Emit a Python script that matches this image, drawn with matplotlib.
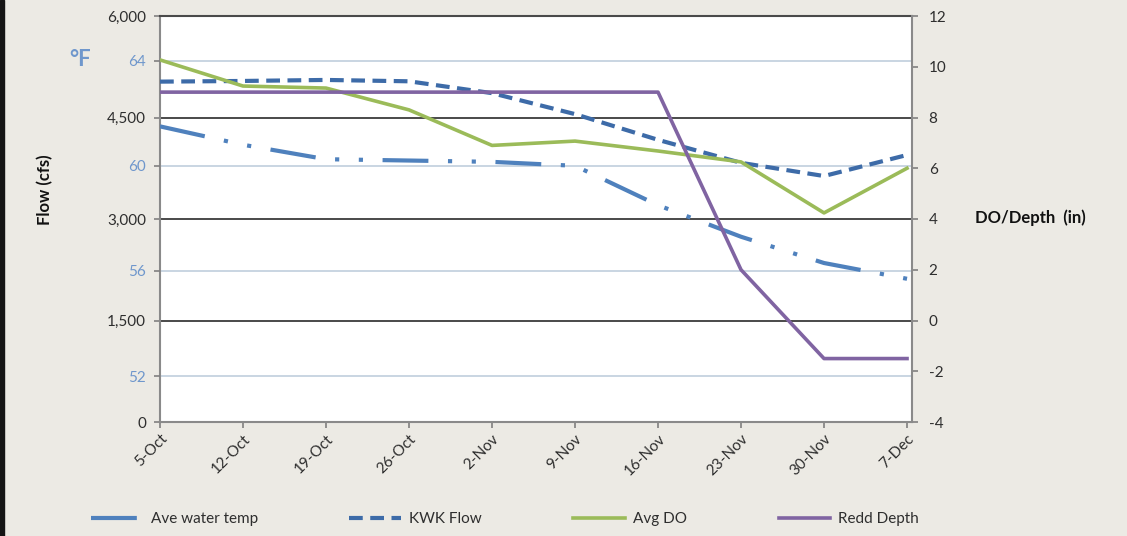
import matplotlib
matplotlib.use("Agg")
import matplotlib.pyplot as plt
import matplotlib.transforms as mtransforms
from matplotlib.patches import Rectangle

# weekly dates on the category axis
dates = ["5-Oct", "12-Oct", "19-Oct", "26-Oct", "2-Nov",
         "9-Nov", "16-Nov", "23-Nov", "30-Nov", "7-Dec"]

# values
water_temp = [61.5, 60.8, 60.25, 60.2, 60.15, 60.0, 58.5, 57.3, 56.3, 55.7]   # deg F
kwk_flow = [5030, 5040, 5055, 5035, 4860, 4550, 4170, 3830, 3635, 3946]       # cfs
avg_do = [10.27, 9.24, 9.16, 8.3, 6.9, 7.07, 6.68, 6.25, 4.24, 6.0]
redd_depth = [9.0, 9.0, 9.0, 9.0, 9.0, 9.0, 9.0, 2.0, -1.5, -1.5]              # in

flow_ticks = [0, 1500, 3000, 4500, 6000]
temp_ticks = [52, 56, 60, 64]
right_ticks = [-4, -2, 0, 2, 4, 6, 8, 10, 12]

bg = "#ECEAE4"
txt = "#2E2E2E"
blue = "#4F81BD"
blue_dk = "#3D6BA8"
green = "#9BBB59"
purple = "#8064A2"
temp_lbl = "#6F97CC"

plt.rcParams["font.family"] = ["Lato", "DejaVu Sans"]
plt.rcParams["axes.unicode_minus"] = False

fig = plt.figure(figsize=(11.27, 5.36), dpi=100, facecolor=bg)
ax = fig.add_axes([160 / 1127, 1 - 422 / 536, 752 / 1127, 406 / 536])
ax.set_facecolor("white")
ax_t = ax.twinx()
ax_r = ax.twinx()

x = list(range(len(dates)))

# flow axis (left, black labels)
ax.set_ylim(0, 6000)
ax.set_yticks(flow_ticks)
ax.set_yticklabels([f"{v:,}" for v in flow_ticks])
ax.set_xlim(0, len(dates) - 1 + 0.06)
ax.set_xticks(x)
ax.set_xticklabels(dates, rotation=45, ha="right", rotation_mode="anchor")

# temperature axis (left, blue labels)
ax_t.set_ylim(50.25, 65.7)
ax_t.yaxis.tick_left()
ax_t.set_yticks(temp_ticks)
ax_t.set_yticklabels([str(v) for v in temp_ticks], color=temp_lbl)

# DO / depth axis (right)
ax_r.set_ylim(-4, 12)
ax_r.set_yticks(right_ticks)

# gridlines drawn on the base axes so every series sits above them
for v in flow_ticks[1:-1]:
    ax.axhline(v, color="#4A4A4A", lw=1.4, zorder=1)
tr = mtransforms.blended_transform_factory(ax.transAxes, ax_t.transData)
for v in temp_ticks:
    ax.plot([0, 1], [v, v], transform=tr, color="#C9D5E2", lw=1.4, zorder=1)

for a in (ax, ax_t, ax_r):
    for s in a.spines.values():
        s.set_visible(False)
    a.tick_params(colors="#808080", labelcolor=txt, labelsize=11, length=4, width=1.2)
ax_t.tick_params(labelcolor=temp_lbl, pad=6)
ax.tick_params(axis="y", pad=6)
ax.tick_params(axis="x", pad=3)
ax_r.tick_params(pad=8)
ax.spines["left"].set_visible(True)
ax.spines["bottom"].set_visible(True)
ax.spines["top"].set_visible(True)
ax_r.spines["right"].set_visible(True)
for s in (ax.spines["left"], ax.spines["bottom"], ax_r.spines["right"]):
    s.set_color("#8A8A8A")
    s.set_linewidth(1.5)
ax.spines["top"].set_color("#4A4A4A")
ax.spines["top"].set_linewidth(1.5)

l1, = ax_t.plot(x, water_temp, color=blue, lw=3,
                linestyle=(0, (11, 4.7, 1, 4.7, 1, 4.7)), label="Ave water temp")
l2, = ax.plot(x, kwk_flow, color=blue_dk, lw=3,
              linestyle=(0, (3.3, 1.8)), label="KWK Flow", zorder=3)
l3, = ax_r.plot(x, avg_do, color=green, lw=2.6, label="Avg DO")
l4, = ax_r.plot(x, redd_depth, color=purple, lw=2.6, label="Redd Depth")

# axis titles
fig.text(45 / 1127, 1 - 190 / 536, "Flow (cfs)", rotation=90, ha="center", va="center",
         fontsize=12, fontweight="bold", color="#111111")
fig.text(80 / 1127, 1 - 60 / 536, "°F", ha="center", va="center",
         fontsize=16, fontweight="bold", color=temp_lbl)
fig.text(975 / 1127, 1 - 218 / 536, "DO/Depth  (in)", ha="left", va="center",
         fontsize=12, fontweight="bold", color="#111111")

fig.legend(handles=[l1, l2, l3, l4], loc="center", bbox_to_anchor=(0.448, 0.032),
           ncol=4, frameon=False, fontsize=11, handlelength=3.4,
           handletextpad=0.5, columnspacing=6.0, labelcolor=txt)

# dark window edge on the left
fig.patches.append(Rectangle((0, 0), 4 / 1127, 1, transform=fig.transFigure,
                             color="#151515", zorder=5))

fig.savefig("out.png", dpi=100, facecolor=bg)
